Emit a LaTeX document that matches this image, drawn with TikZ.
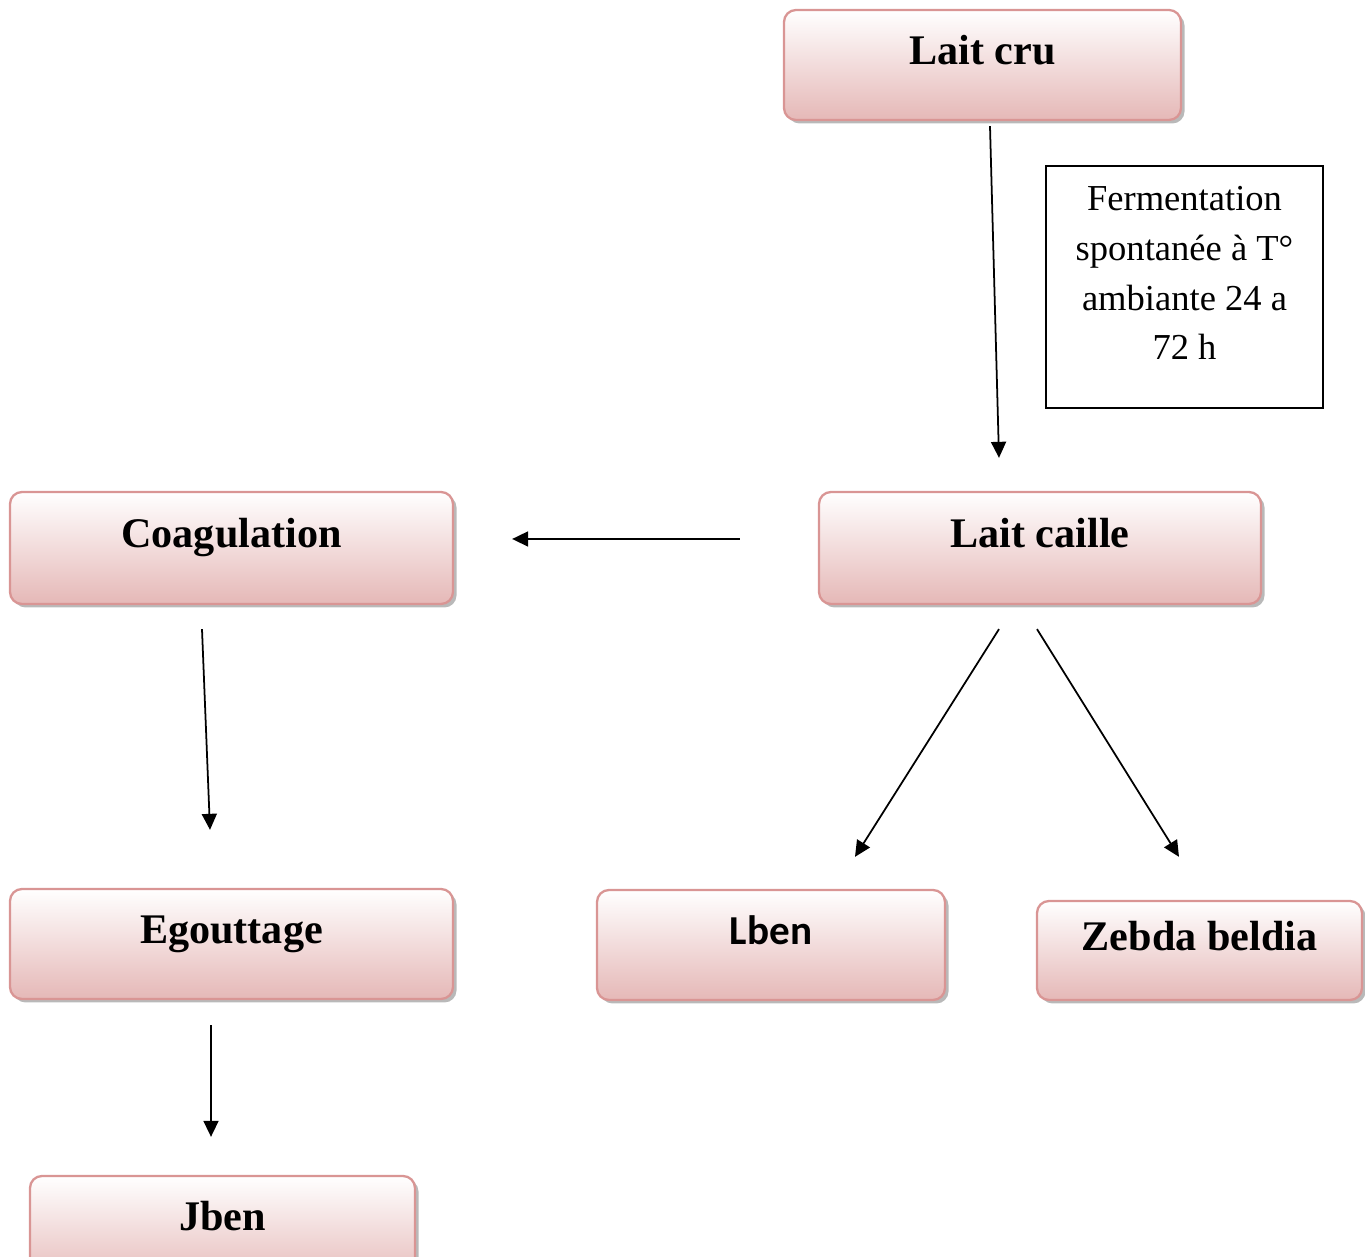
\documentclass[tikz,border=0pt]{standalone}
\usepackage{fontspec}
\setmainfont{Liberation Serif}
\newfontfamily\lbenfont{Carlito}
\usepackage{tikz}
\usetikzlibrary{arrows.meta,shadows}
\definecolor{boxedge}{HTML}{D99594}
\definecolor{boxfill}{HTML}{E5B8B7}

\begin{document}
\begin{tikzpicture}[
    box/.style={rounded corners=0.12cm, draw=boxedge, line width=0.65pt,
        top color=white, bottom color=boxfill,
        drop shadow={shadow xshift=0.035cm, shadow yshift=-0.035cm, fill=black!50, opacity=0.55},
        font=\bfseries\fontsize{12}{14}\selectfont,
        text height=0.3cm, text depth=0.3cm},
    flow/.style={line width=0.5pt, -{Triangle[length=0.16cm, width=0.15cm]}}
    ]
    \useasboundingbox (0,0) rectangle (13.65,-12.57);

    \node[box, minimum width=3.97cm, minimum height=1.1cm] (cru) at (9.825,-0.65) {Lait cru};
    \node[box, minimum width=4.42cm, minimum height=1.12cm] (caille) at (10.4,-5.48) {Lait caille};
    \node[box, minimum width=4.43cm, minimum height=1.12cm] (coag) at (2.315,-5.48) {Coagulation};
    \node[box, minimum width=4.43cm, minimum height=1.1cm] (egout) at (2.315,-9.44) {Egouttage};
    \node[box, minimum width=3.48cm, minimum height=1.1cm, font=\lbenfont\bfseries\fontsize{11.7}{14}\selectfont] (lben) at (7.71,-9.45) {Lben};
    \node[box, minimum width=3.25cm, minimum height=0.99cm] (zebda) at (11.995,-9.505) {Zebda beldia};
    \node[box, minimum width=3.85cm, minimum height=1.1cm] (jben) at (2.225,-12.31) {Jben};

    \node[draw, line width=0.6pt, minimum width=2.77cm, minimum height=2.42cm,
        label={[yshift=0.14cm, align=center, font=\fontsize{10.4}{14.2}\selectfont]center:{Fermentation\\spontanée à T°\\ambiante 24 a\\72 h}}]
        (ferm) at (11.845,-2.87) {};

    \draw[flow] ([xshift=0.075cm, yshift=-0.05cm]cru.south) -- ([xshift=-0.41cm, yshift=0.33cm]caille.north);
    \draw[flow] ([xshift=-0.78cm, yshift=0.09cm]caille.west) -- ([xshift=0.58cm, yshift=0.09cm]coag.east);
    \draw[flow] ([xshift=-0.295cm, yshift=-0.24cm]coag.south) -- ([xshift=-0.215cm, yshift=0.58cm]egout.north);
    \draw[flow] ([xshift=-0.41cm, yshift=-0.24cm]caille.south) -- ([xshift=0.84cm, yshift=0.32cm]lben.north);
    \draw[flow] ([xshift=-0.03cm, yshift=-0.24cm]caille.south) -- ([xshift=-0.205cm, yshift=0.43cm]zebda.north);
    \draw[flow] ([xshift=-0.205cm, yshift=-0.25cm]egout.south) -- ([xshift=-0.115cm, yshift=0.38cm]jben.north);
  \end{tikzpicture}
\end{document}
